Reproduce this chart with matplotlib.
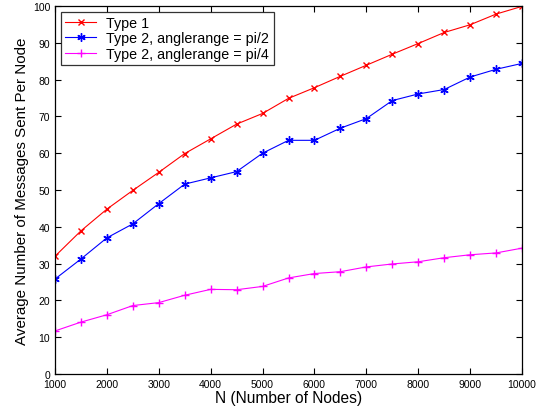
import matplotlib
matplotlib.use("Agg")
import matplotlib.pyplot as plt

plt.rcParams['font.family'] = ['Liberation Sans', 'DejaVu Sans']

nodes = [1000, 1500, 2000, 2500, 3000, 3500, 4000, 4500, 5000, 5500,
         6000, 6500, 7000, 7500, 8000, 8500, 9000, 9500, 10000]
type1 = [32.0, 38.9, 44.8, 49.9, 54.8, 59.9, 63.9, 67.9, 70.8, 74.9,
         77.8, 80.9, 83.9, 86.9, 89.8, 92.8, 94.9, 97.8, 99.9]
type2_pi2 = [25.8, 31.25, 37.0, 40.8, 46.3, 51.6, 53.3, 55.0, 60.0, 63.5,
             63.5, 66.8, 69.4, 74.3, 76.1, 77.3, 80.7, 82.8, 84.4]
type2_pi4 = [11.7, 14.1, 16.1, 18.6, 19.4, 21.4, 23.0, 22.9, 23.8, 26.1,
             27.3, 27.8, 29.1, 29.9, 30.5, 31.6, 32.4, 32.9, 34.2]
labels = ["Type 1", "Type 2, anglerange = pi/2", "Type 2, anglerange = pi/4"]

fig = plt.figure(figsize=(5.42, 4.10), dpi=100)
ax = fig.add_axes([55/542, 35/410, 467/542, 368/410])

ax.plot(nodes, type1, color='#ff0000', marker='x', markersize=4, lw=0.8, label=labels[0])
ax.plot(nodes, type2_pi2, color='#0000ff', marker=(6, 2, 0), markersize=6, lw=0.8, label=labels[1])
ax.plot(nodes, type2_pi4, color='#ff00ff', marker='+', markersize=6, lw=0.8, label=labels[2])

ax.set_xlim(1000, 10000)
ax.set_ylim(0, 100)
ax.set_xticks(range(1000, 10001, 1000))
ax.set_yticks(range(0, 101, 10))
ax.tick_params(direction='in', top=True, right=True, labelsize=7.5, length=4, width=0.8)
for s in ax.spines.values():
    s.set_linewidth(0.9)

ax.set_xlabel("N (Number of Nodes)", fontsize=11.2, labelpad=1)
ax.set_ylabel("Average Number of Messages Sent Per Node", fontsize=10.9, labelpad=3)

leg = ax.legend(loc='upper left', fontsize=10.3, frameon=True, fancybox=False,
                edgecolor='black', borderaxespad=0.4, handlelength=2.2,
                borderpad=0.3, labelspacing=0.1, handletextpad=0.7)
leg.get_frame().set_linewidth(0.9)

fig.savefig("out.png", dpi=100)
